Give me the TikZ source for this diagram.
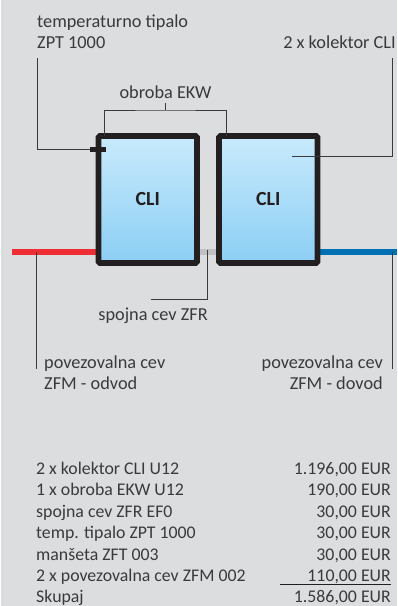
\documentclass[tikz,border=0pt]{standalone}
\usepackage{fontspec}
\setmainfont{Carlito}
\definecolor{bgc}{HTML}{DCDDDF}
\definecolor{ink}{HTML}{3A3A3C}
\definecolor{frame}{HTML}{231F20}
\definecolor{skytop}{HTML}{C8EAFC}
\definecolor{skybot}{HTML}{8CCFF4}
\definecolor{hot}{HTML}{EE2E34}
\definecolor{cold}{HTML}{0070B5}
\definecolor{link}{HTML}{C0C1C4}
\tikzset{
 x=1pt,y=-1pt,
 lbl/.style={inner sep=0pt,text=ink,font=\fontsize{18.3}{18.3}\selectfont},
 tbl/.style={inner sep=0pt,text=ink,font=\fontsize{17.8}{17.8}\selectfont},
 lw/.style={lbl,anchor=base west},
 le/.style={lbl,anchor=base east},
 tw/.style={tbl,anchor=base west},
 te/.style={tbl,anchor=base east},
 lead/.style={draw=ink,line width=0.9pt},
 collector/.style={draw=frame,line width=5.8pt,rounded corners=1.5pt,top color=skytop,bottom color=skybot,minimum width=98.5pt,minimum height=127pt,inner sep=0pt,outer sep=0pt,anchor=north west,font=\fontsize{20}{20}\selectfont\bfseries,text=frame},
 pipe/.style={line width=6pt}
}
\begin{document}
\begin{tikzpicture}
\useasboundingbox (0,0) rectangle (397,606);
\fill[white] (0,0) rectangle (397,606);
\fill[bgc] (1,0) rectangle (397,606);
% named points
\coordinate (redend) at (12,252);
\coordinate (blueend) at (397,252);
\coordinate (tempstart) at (37,58);
\coordinate (sensorL) at (90,149.5);
\coordinate (sensorR) at (106,149.5);
\coordinate (klstart) at (392,58);
\coordinate (klend) at (292,156);
\coordinate (eL) at (104,136);
\coordinate (eR) at (226,136);
\coordinate (eTick) at (165.5,103);
\coordinate (eTickB) at (165.5,110);
\coordinate (linkTop) at (207.5,250);
\coordinate (linkEnd) at (151,299);
\coordinate (leftTop) at (36,252);
\coordinate (leftEnd) at (36,369);
\coordinate (rightTop) at (392,252);
\coordinate (rightEnd) at (392,369);
% pipes
\draw[pipe,draw=hot] (redend) -- (98,252);
\draw[pipe,draw=cold] (318,252) -- (blueend);
\draw[pipe,draw=link] (197,252) -- (219,252);
% collectors
\node[collector] (c1) at (98.5,136) {CLI};
\node[collector] (c2) at (219,136) {CLI};
% leaders
\draw[lead] (tempstart) |- (sensorL);
\draw[draw=frame,line width=5.5pt] (sensorL) -- (sensorR);
\draw[lead] (eL) |- (eTickB) -| (eR);
\draw[lead] (eTick) -- (eTickB);
\draw[lead] (klstart) |- (klend);
\draw[lead] (linkTop) |- (linkEnd);
\draw[lead] (leftTop) -- (leftEnd);
\draw[lead] (rightTop) -- (rightEnd);
% labels
\node[lw] (t1) at (37,27) {temperaturno tipalo};
\node[lw] (t2) at (37,48) {ZPT 1000};
\node[lbl,anchor=base] (t3) at (165.5,98) {obroba EKW};
\node[le] (t4) at (396,48) {2 x kolektor CLI};
\node[le] (t5) at (208,320) {spojna cev ZFR};
\node[lw] (t6) at (44,368) {povezovalna cev};
\node[lw] (t7) at (44,389) {ZFM - odvod};
\node[le] (t8) at (383,368) {povezovalna cev};
\node[le] (t9) at (383,389) {ZFM - dovod};
% table
\node[tw] (a1) at (36,474) {2 x kolektor CLI U12};
\node[tw] (a2) at (36,495) {1 x obroba EKW U12};
\node[tw] (a3) at (36,517) {spojna cev ZFR EF0};
\node[tw] (a4) at (36,538) {temp. tipalo ZPT 1000};
\node[tw] (a5) at (36,560) {manšeta ZFT 003};
\node[tw] (a6) at (36,581) {2 x povezovalna cev ZFM 002};
\node[tw] (a7) at (36,602) {Skupaj};
\node[te] (b1) at (391,474) {1.196,00 EUR};
\node[te] (b2) at (391,495) {190,00 EUR};
\node[te] (b3) at (391,517) {30,00 EUR};
\node[te] (b4) at (391,538) {30,00 EUR};
\node[te] (b5) at (391,560) {30,00 EUR};
\node[te] (b6) at (391,581) {110,00 EUR};
\node[te] (b7) at (391,602) {1.586,00 EUR};
\coordinate (ruleL) at (280,584);
\coordinate (ruleR) at (391,584);
\draw[draw=frame,line width=0.9pt] (ruleL) -- (ruleR);
\end{tikzpicture}
\end{document}
